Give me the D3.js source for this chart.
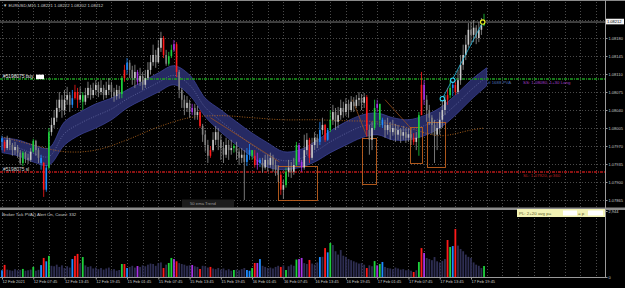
<!DOCTYPE html>
<html>
<head>
<meta charset="utf-8">
<script src="https://cdn.jsdelivr.net/npm/d3@7"></script>
<style>
  body { margin: 0; background: #000; overflow: hidden; }
  svg text { font-family: "Liberation Sans", Arial, sans-serif; }
</style>
</head>
<body>
<div id="chart"></div>
<script>
// EURUSD M15, one candle every 2 bars, prices in points (8212 = 1.08212)
var firstOpen = 7985;
var highs = [7990,7982,7990,7986,7976,7978,7972,7962,7960,7959,
  7955,7966,7984,7982,7966,7953,7939,7933,8005,8025,
  8040,8060,8075,8069,8079,8085,8075,8079,8089,8083,
  8085,8075,8083,8095,8089,8093,8098,8095,8098,8089,
  8095,8102,8095,8083,8089,8087,8106,8128,8141,8137,
  8126,8128,8118,8122,8114,8118,8133,8147,8167,8157,
  8176,8192,8184,8157,8153,8167,8176,8172,8118,8083,
  8069,8067,8060,8052,8052,8048,8040,8013,8001,7982,
  7970,7997,8009,8005,7992,7978,7986,7982,7982,7974,
  7978,7966,7966,7962,7966,7974,7962,7962,7957,7947,
  7947,7953,7953,7957,7953,7943,7933,7920,7904,7928,
  7943,7939,7947,7978,7976,7943,7992,7995,7986,7986,
  7997,7993,8017,8025,8013,8005,8040,8050,8044,8046,
  8060,8056,8063,8060,8067,8065,8069,8075,8071,8073,
  8069,8011,8017,8060,8060,8052,8025,8021,8025,8017,
  8021,8013,8011,8005,8009,8005,8005,8001,7995,7997,
  8036,8114,8098,8069,8050,8030,8021,8017,8036,8060,
  8069,8083,8098,8098,8095,8118,8147,8167,8186,8209,
  8211,8215,8205,8211,8219,8227];
var lows = [7962,7959,7962,7962,7951,7953,7947,7933,7931,7937,
  7935,7939,7957,7951,7937,7924,7871,7881,7924,7990,
  8005,8017,8036,8025,8030,8050,8036,8044,8060,8044,
  8054,8040,8050,8063,8060,8063,8069,8065,8069,8060,
  8063,8069,8063,8056,8060,8062,8063,8095,8110,8102,
  8089,8083,8089,8087,8079,8083,8098,8110,8126,8122,
  8130,8153,8141,8126,8126,8141,8153,8104,8063,8044,
  8030,8036,8025,8030,8021,8021,8005,7978,7959,7937,
  7947,7959,7972,7962,7943,7937,7947,7943,7953,7957,
  7943,7933,7937,7865,7931,7943,7943,7928,7924,7929,
  7918,7924,7920,7928,7920,7912,7900,7875,7867,7889,
  7910,7908,7914,7931,7933,7920,7924,7953,7937,7943,
  7962,7966,7972,7992,7978,7980,7997,8011,8001,8005,
  8021,8025,8029,8025,8036,8036,8044,8048,8040,8044,
  7988,7953,7962,8001,8036,8007,8005,7986,7992,7982,
  7990,7978,7982,7976,7982,7976,7978,7972,7972,7962,
  7951,8030,8050,8017,8011,7992,7937,7962,7992,8005,
  8030,8050,8063,8067,8069,8071,8089,8118,8137,8161,
  8167,8172,8168,8172,8186,8203];
var closes = [7978,7966,7982,7972,7962,7968,7957,7937,7957,7947,
  7943,7959,7980,7962,7947,7937,7885,7928,7997,8011,
  8025,8044,8060,8040,8060,8069,8050,8063,8075,8060,
  8069,8056,8069,8083,8069,8079,8089,8075,8083,8069,
  8079,8089,8075,8067,8079,8071,8102,8118,8132,8118,
  8102,8114,8095,8106,8089,8102,8118,8133,8147,8133,
  8161,8180,8147,8130,8145,8157,8168,8114,8079,8060,
  8044,8054,8036,8044,8030,8036,8009,7992,7972,7951,
  7962,7982,7997,7982,7966,7953,7972,7962,7966,7970,
  7959,7947,7953,7939,7953,7962,7951,7933,7943,7937,
  7928,7943,7933,7947,7933,7924,7914,7885,7894,7920,
  7928,7920,7933,7972,7939,7928,7962,7982,7947,7972,
  7986,7978,8001,8011,7982,8001,8021,8036,8017,8030,
  8044,8036,8052,8040,8056,8048,8060,8063,8054,8065,
  8001,7982,8005,8044,8052,8021,8011,8001,8011,7997,
  8005,7992,8001,7990,7997,7986,7993,7986,7978,7986,
  8030,8089,8060,8040,8025,8011,7992,8005,8021,8040,
  8060,8069,8083,8089,8075,8098,8128,8147,8167,8196,
  8186,8200,8180,8196,8205,8212];
// PVA colour per candle: n normal, r red, g green, b blue, m purple
var pva = ("brnnnnnngn" + "nngnnbrbgn" + "nnnnnnnbrr" + "ngnnnnnnnn" + "nnnnnngrbn" +
  "nnmnnnnnnn" + "nnrnggmrnn" + "nnnmnnrnnn" + "rnnnnnnnng" + "nnnnbbgrmb" +
  "nnnnnnnrng" + "nnngmmnnrn" + "nnbnrbgnnn" + "nnnnnnnnnn" + "rnngmgbnnn" +
  "nnnnnnnnrn" + "grmnnnnnnn" + "nrgbrnnnnn" + "nnnnng").split("");
// tick volume per candle
var volumes = [300,540,330,300,280,350,300,320,360,280,
  300,330,450,280,320,530,850,700,940,500,
  480,550,450,520,400,480,420,800,940,1030,
  600,890,520,450,480,380,420,350,400,330,
  380,420,300,350,280,312,580,580,400,450,
  500,420,490,450,520,480,550,600,580,500,
  620,650,400,550,625,850,800,700,620,580,
  550,500,520,535,480,450,357,500,480,420,
  450,380,350,400,330,380,300,350,280,312,
  330,300,350,400,312,280,400,625,625,800,
  500,450,400,420,380,450,500,450,520,312,
  480,550,500,780,800,850,620,580,760,600,
  550,650,890,900,1290,1100,1516,1427,1150,1000,
  1200,950,900,800,750,700,650,600,620,550,
  400,520,480,710,520,580,670,450,400,380,
  350,420,380,330,350,300,320,280,223,300,
  670,1290,1070,850,800,750,890,700,650,720,
  800,1650,1340,1380,2140,1400,1250,1150,1000,900,
  850,650,550,500,400,490];

// 50 ema channel, one point every 12 bars
var bandUpper = [7986,7982,7972,7966,8017,8036,8052,8063,8079,8095,8112,8126,8108,8063,8040,8017,
  7995,7976,7959,7962,7978,7999,8017,8030,8034,8025,8021,8029,8044,8069,8098,8122];
var bandLower = [7957,7951,7939,7933,7972,7992,8005,8021,8044,8060,8075,8089,8069,8027,7997,7972,
  7949,7929,7924,7928,7939,7957,7972,7986,7992,7982,7982,7990,8005,8030,8060,8087];

// slow moving average (orange dots)
var maBars = [0,24,48,72,96,120,144,168,192,216,240,264,288,312,336,360,370];
var maValues = [7988,7972,7959,7962,7982,8007,8025,8029,8025,8021,8021,8019,8017,8005,7990,8001,8005];

var priceTicks = [8180, 8145, 8110, 8075, 8040, 8005, 7970, 7935, 7900, 7865];
var labelBars = [0,24,48,72,96,120,144,168,192,216,240,264,288,312,336,360];
var timeLabels = ["12 Feb 2021","12 Feb 07:45","12 Feb 13:45","12 Feb 19:45","15 Feb 01:45","15 Feb 07:45",
  "15 Feb 13:45","15 Feb 19:45","16 Feb 01:45","16 Feb 07:45","16 Feb 13:45","16 Feb 19:45",
  "17 Feb 01:45","17 Feb 07:45","17 Feb 13:45","17 Feb 19:45"];

// trade levels
var buyLevel = 8100, stopLevel = 7920, bidPrice = 8212, topGrid = 8215;

// orange boxes
var boxStart = [212, 276, 313, 326];
var boxEnd = [242, 287, 322, 340];
var boxTop = [7931, 7986, 8007, 8017];
var boxBottom = [7865, 7896, 7937, 7929];

// orange trend lines
var trendFromBar = [160, 269, 294];
var trendToBar = [213, 280, 313];
var trendFrom = [8025, 8060, 8060];
var trendTo = [7939, 7989, 8007];

// signal points (cyan line)
var sigBars = [338, 346, 369];
var sigPrices = [8062, 8098, 8211];

var W = 625, H = 288, axisX = 605.5;
var pvaColor = {r: "#ff1a1a", g: "#1ed23c", b: "#1e8cff", m: "#a832e6"};

var svg = d3.select("#chart").append("svg")
    .attr("width", W).attr("height", H)
    .style("background", "#000");

var x = d3.scaleLinear().domain([0, 360]).range([2, 471]);
var y = d3.scaleLinear().domain([7865, 8180]).range([200, 38]);
var yv = d3.scaleLinear().domain([0, 2944]).range([277, 211]);

function px(v) { return Math.round(v) + 0.5; }

svg.append("clipPath").attr("id", "main").append("rect")
    .attr("x", 0).attr("y", 0).attr("width", 605).attr("height", 207);

// grid
var grid = svg.append("g").attr("stroke", "#4a4a4a").attr("stroke-dasharray", "1,2");
grid.selectAll(".vg").data(d3.range(0, 460, 12)).enter().append("line")
    .attr("x1", function(d) { return px(x(d)); }).attr("x2", function(d) { return px(x(d)); })
    .attr("y1", 2).attr("y2", 277);
grid.selectAll(".hg").data([topGrid].concat(priceTicks)).enter().append("line")
    .attr("x1", 0).attr("x2", 605)
    .attr("y1", function(d) { return px(y(d)); }).attr("y2", function(d) { return px(y(d)); });

var main = svg.append("g").attr("clip-path", "url(#main)");

// ema channel
var band = bandUpper.map(function(u, i) { return {bar: i * 12, up: u, lo: bandLower[i]}; });
main.append("path").datum(band)
    .attr("fill", "#262a63").attr("stroke", "#3b4196").attr("stroke-width", 0.8)
    .attr("d", d3.area().curve(d3.curveCatmullRom)
        .x(function(d) { return x(d.bar); })
        .y0(function(d) { return y(d.lo); })
        .y1(function(d) { return y(d.up); }));
main.append("path").datum(band)
    .attr("fill", "none").attr("stroke", "#7a80b8").attr("stroke-width", 0.6).attr("stroke-dasharray", "1,1.5")
    .attr("d", d3.line().curve(d3.curveCatmullRom)
        .x(function(d) { return x(d.bar); })
        .y(function(d) { return y((d.up + d.lo) / 2); }));

// slow ma
main.append("path").datum(maBars)
    .attr("fill", "none").attr("stroke", "#b8681c").attr("stroke-width", 0.9).attr("stroke-dasharray", "1,1.5")
    .attr("d", d3.line().curve(d3.curveCatmullRom)
        .x(function(d) { return x(d); })
        .y(function(d, i) { return y(maValues[i]); }));

// trade levels
main.append("line").attr("x1", 0).attr("x2", 605)
    .attr("y1", Math.round(y(buyLevel))).attr("y2", Math.round(y(buyLevel)))
    .attr("stroke", "#1f9f22").attr("stroke-width", 1.6).attr("stroke-dasharray", "3,1,1,1");
main.append("line").attr("x1", 0).attr("x2", 605)
    .attr("y1", Math.round(y(stopLevel))).attr("y2", Math.round(y(stopLevel)))
    .attr("stroke", "#b81818").attr("stroke-width", 1.4).attr("stroke-dasharray", "3,1,1,1");
main.append("line").attr("x1", 0).attr("x2", 605)
    .attr("y1", y(bidPrice) + 0.5).attr("y2", y(bidPrice) + 0.5)
    .attr("stroke", "#9a9a9a").attr("stroke-width", 0.8);

// orange boxes and trend lines
main.selectAll(".box").data(boxStart).enter().append("rect")
    .attr("x", function(d) { return px(x(d)); })
    .attr("y", function(d, i) { return px(y(boxTop[i])); })
    .attr("width", function(d, i) { return Math.round(x(boxEnd[i]) - x(d)); })
    .attr("height", function(d, i) { return Math.round(y(boxBottom[i]) - y(boxTop[i])); })
    .attr("fill", "none").attr("stroke", "#c0601e").attr("stroke-width", 0.9);
main.selectAll(".trend").data(trendFromBar).enter().append("line")
    .attr("x1", function(d) { return x(d); })
    .attr("y1", function(d, i) { return y(trendFrom[i]); })
    .attr("x2", function(d, i) { return x(trendToBar[i]); })
    .attr("y2", function(d, i) { return y(trendTo[i]); })
    .attr("stroke", "#a8561a").attr("stroke-width", 0.7);

// candles
var candles = closes.map(function(c, i) {
    return {bar: i * 2, open: i ? closes[i - 1] : firstOpen, close: c, high: highs[i], low: lows[i], pva: pva[i], vol: volumes[i]};
});
function candleColor(d) {
    if (pvaColor[d.pva]) return pvaColor[d.pva];
    return d.close >= d.open ? "#c8c8c8" : "#808080";
}
var cg = main.append("g");
cg.selectAll(".wick").data(candles).enter().append("line")
    .attr("x1", function(d) { return x(d.bar); }).attr("x2", function(d) { return x(d.bar); })
    .attr("y1", function(d) { return y(d.high); }).attr("y2", function(d) { return y(d.low); })
    .attr("stroke", function(d) { return pvaColor[d.pva] || "#959595"; }).attr("stroke-width", 0.8);
cg.selectAll(".body").data(candles).enter().append("rect")
    .attr("x", function(d) { return x(d.bar) - 0.8; })
    .attr("y", function(d) { return y(Math.max(d.open, d.close)); })
    .attr("width", 1.6)
    .attr("height", function(d) { return Math.max(0.8, Math.abs(y(d.open) - y(d.close))); })
    .attr("fill", candleColor);

// signal line and circles
main.append("line")
    .attr("x1", x(sigBars[0])).attr("y1", y(sigPrices[0]))
    .attr("x2", x(sigBars[2])).attr("y2", y(sigPrices[2]))
    .attr("stroke", "#22b8dc").attr("stroke-width", 0.8);
main.selectAll(".sig").data(sigBars).enter().append("circle")
    .attr("cx", function(d) { return x(d); })
    .attr("cy", function(d, i) { return y(sigPrices[i]); })
    .attr("r", 2.2).attr("fill", "#000")
    .attr("stroke", function(d, i) { return i == 2 ? "#f0f020" : "#30d8f8"; }).attr("stroke-width", 1.1);

// 50 ema trend label
svg.append("rect").attr("x", 182).attr("y", 199.5).attr("width", 52).attr("height", 7.5).attr("fill", "#1c1c1c");
svg.append("text").attr("x", 190).attr("y", 205.2).attr("font-size", 4.2).attr("fill", "#9a9a9a").text("50 ema Trend");

// volume window
var vg = svg.append("g");
vg.selectAll(".vol").data(candles).enter().append("rect")
    .attr("x", function(d) { return x(d.bar) - 0.9; })
    .attr("y", function(d) { return yv(d.vol); })
    .attr("width", 1.8)
    .attr("height", function(d) { return yv(0) - yv(d.vol); })
    .attr("fill", function(d) { return pvaColor[d.pva] || "#2e2e52"; });

// frame: separator, borders
svg.append("line").attr("x1", 0).attr("x2", W).attr("y1", 0.5).attr("y2", 0.5).attr("stroke", "#8a8a8a");
svg.append("rect").attr("x", 0).attr("y", 207.5).attr("width", W).attr("height", 2.5).attr("fill", "#8c8c8c");
svg.append("line").attr("x1", axisX).attr("x2", axisX).attr("y1", 0).attr("y2", 278).attr("stroke", "#9a9a9a");

// price axis
var ya = svg.append("g").attr("transform", "translate(" + axisX + ",0)")
    .call(d3.axisRight(y).tickValues(priceTicks).tickSize(2).tickPadding(1)
        .tickFormat(function(d) { return (1 + d / 1e5).toFixed(5); }));
ya.select(".domain").remove();
ya.selectAll("line").attr("stroke", "#9a9a9a");
ya.selectAll("text").attr("font-size", 4).attr("fill", "#c8c8c8").attr("font-family", "Liberation Sans");

// bid box
svg.append("rect").attr("x", 606).attr("y", y(bidPrice) - 2.8).attr("width", 18).attr("height", 5.6).attr("fill", "#f4f4f4");
svg.append("text").attr("x", 607).attr("y", y(bidPrice) + 1.5).attr("font-size", 4).attr("fill", "#000")
    .text((1 + bidPrice / 1e5).toFixed(5));

// volume axis
var va = svg.append("g").attr("transform", "translate(" + axisX + ",0)")
    .call(d3.axisRight(yv).tickValues([0, 2944]).tickSize(2).tickPadding(1));
va.select(".domain").remove();
va.selectAll("line").attr("stroke", "#9a9a9a");
va.selectAll("text").attr("font-size", 4).attr("fill", "#c8c8c8").attr("font-family", "Liberation Sans");

// time axis
var xa = svg.append("g").attr("transform", "translate(0,277.5)")
    .call(d3.axisBottom(x).tickValues(labelBars).tickSize(2).tickPadding(1)
        .tickFormat(function(d, i) { return timeLabels[i]; }));
xa.select(".domain").attr("stroke", "#9a9a9a").attr("d", "M0,0H605");
xa.selectAll("line").attr("stroke", "#9a9a9a");
xa.selectAll("text").attr("font-size", 4).attr("fill", "#c8c8c8").attr("text-anchor", "start")
    .attr("font-family", "Liberation Sans");

// texts
svg.append("text").attr("x", 3).attr("y", 6.5).attr("font-size", 4.3).attr("fill", "#d0d0d0")
    .text("\u25BC EURUSD,M15  1.08221 1.08222 1.08202 1.08212");
svg.append("text").attr("x", 3).attr("y", y(buyLevel) - 0.8).attr("font-size", 4.8).attr("fill", "#e8e8e8")
    .text("#5198075 buy");
svg.append("rect").attr("x", 36).attr("y", y(buyLevel) - 4.5).attr("width", 8).attr("height", 4.5).attr("fill", "#ffffff");
svg.append("text").attr("x", 3).attr("y", y(stopLevel) - 1).attr("font-size", 4.8).attr("fill", "#d8d8d8")
    .text("#5198075 sl");
svg.append("text").attr("x", 488).attr("y", y(buyLevel) + 4.6).attr("font-size", 4.4).attr("fill", "#4a6cb0")
    .text("tf 1688 PVA");
svg.append("text").attr("x", 523).attr("y", y(buyLevel) + 4.6).attr("font-size", 4.4).attr("fill", "#a03cc8")
    .text("SS: 1.08080, 1+30 Long");
svg.append("text").attr("x", 523).attr("y", y(stopLevel) + 5.2).attr("font-size", 4.4).attr("fill", "#b82020")
    .text("SL: 1.07920, p:360");

// volume window title
svg.append("text").attr("x", 2).attr("y", 215.5).attr("font-size", 4.3).attr("fill", "#d0d0d0")
    .text("Broker Tick PVA()");
svg.append("text").attr("x", 37).attr("y", 215.5).attr("font-size", 4.3).attr("fill", "#d0d0d0")
    .text("Alert On,  Count: 332");

// yellow info box
svg.append("rect").attr("x", 517).attr("y", 209).attr("width", 88).attr("height", 8).attr("fill", "#f2f2b4");
svg.append("text").attr("x", 519).attr("y", 214.8).attr("font-size", 4.4).attr("fill", "#5a5a28")
    .text("PL: 2+20 avg p=");
svg.append("rect").attr("x", 563).attr("y", 210.5).attr("width", 14).attr("height", 5).attr("fill", "#ffffff");
svg.append("text").attr("x", 578).attr("y", 214.8).attr("font-size", 4.4).attr("fill", "#5a5a28").text("= p");
svg.append("rect").attr("x", 588).attr("y", 210.5).attr("width", 15).attr("height", 5).attr("fill", "#ffffff");
</script>
</body>
</html>
